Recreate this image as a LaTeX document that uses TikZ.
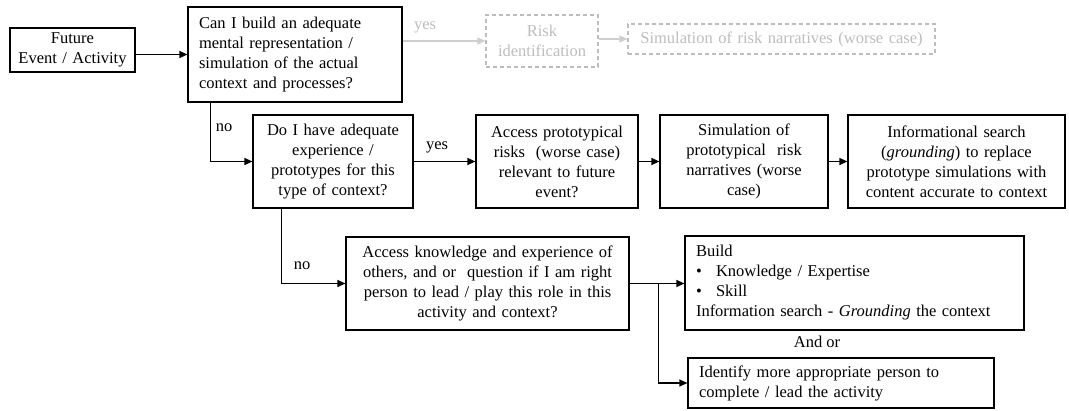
\documentclass[tikz,border=0pt]{standalone}
\usepackage{fontspec}
\setmainfont{Liberation Serif}
\usetikzlibrary{arrows.meta,positioning}
\definecolor{faint}{HTML}{BDBDBD}
\definecolor{faintline}{HTML}{CFCFCF}
\begin{document}
\begin{tikzpicture}[x=1pt,y=-1pt,
  font=\fontsize{16.5}{20}\selectfont,
  box/.style={draw,line width=1.2pt,inner sep=0pt,minimum width=#1,text width=#1-8pt,align=center},
  lbox/.style={draw,line width=1.2pt,inner xsep=11pt,inner ysep=0pt,minimum width=#1,text width=#1-22pt,align=left},
  ghost/.style={draw=faint,dashed,dash pattern=on 4pt off 3pt,line width=1.1pt,text=faint,inner sep=0pt,minimum width=#1,text width=#1-8pt,align=center},
  arr/.style={line width=1.2pt,-{Triangle[length=8pt,width=7pt]}},
  garr/.style={line width=1.2pt,draw=faintline,-{Triangle[length=8pt,width=7pt]},color=faintline},
  lab/.style={inner sep=0pt}]
\useasboundingbox (0,0) rectangle (1069,411);

% top row
\node[box=125pt,minimum height=44pt] (fut) at (72.5,50) {Future\\Event / Activity};
\node[lbox=214pt,minimum height=95pt] (q1) at (295,54.5)
  {Can I build an adequate\\mental representation /\\simulation of the actual\\context and processes?};
\node[ghost=112pt,minimum height=52pt] (risk) at (542,41) {Risk\\identification};
\node[ghost=307pt,minimum height=30pt] (simr) at (781.5,39) {Simulation of risk narratives (worse case)};

% middle row
\node[box=160pt,minimum height=93pt] (q2) at (333,161.5)
  {Do I have adequate\\experience /\\prototypes for this\\type of context?};
\node[box=162pt,minimum height=93pt] (acc) at (557,161.5)
  {Access prototypical\\risks\ \ (worse case)\\relevant to future\\event?};
\node[box=168pt,minimum height=93pt] (simp) at (744,161.5)
  {Simulation of\\prototypical\ \ risk\\narratives (worse\\case)};
\node[box=217pt,minimum height=93pt] (info) at (956.5,161.5)
  {Informational search\\(\textit{grounding}) to replace\\prototype simulations with\\content accurate to context};

% bottom rows
\node[box=283pt,minimum height=93pt] (acc2) at (487.5,283.5)
  {Access knowledge and experience of\\others, and or\ \ question if I am right\\person to lead / play this role in this\\activity and context?};
\node[lbox=339pt,minimum height=94pt] (build) at (854.5,283)
  {Build\\\makebox[20pt][l]{\textbullet}Knowledge / Expertise\\\makebox[20pt][l]{\textbullet}Skill\\Information search - \textit{Grounding} the context};
\node[lbox=306pt,minimum height=50pt,inner xsep=10pt] (ident) at (841,383)
  {Identify more appropriate person to\\complete / lead the activity};
\node[lab] (andor) at (817,342) {And or};

% connectors
\draw[arr] (fut.east |- q1.west) -- (q1.west);
\draw[garr] (q1.east |- risk.west) -- (risk.west);
\node[lab,text=faint] (yes1) at (425,27) {yes};
\draw[garr] (risk.east |- simr.west) -- (simr.west);

\draw[arr] ([xshift=23pt]q1.south west) |- (q2.west);
\node[lab] (no1) at (224,128) {no};
\draw[arr] (q2.east) -- (acc.west);
\node[lab] (yes2) at (437,147) {yes};
\draw[arr] (acc.east) -- (simp.west);
\draw[arr] (simp.east) -- (info.west);

\draw[arr] ([xshift=29pt]q2.south west) |- (acc2.west);
\node[lab] (no2) at (302,266) {no};
\coordinate (br) at ([xshift=29pt]acc2.east);
\draw[arr] (acc2.east) -- (build.west |- acc2.east);
\draw[arr] (br) |- (ident.west);
\end{tikzpicture}
\end{document}
